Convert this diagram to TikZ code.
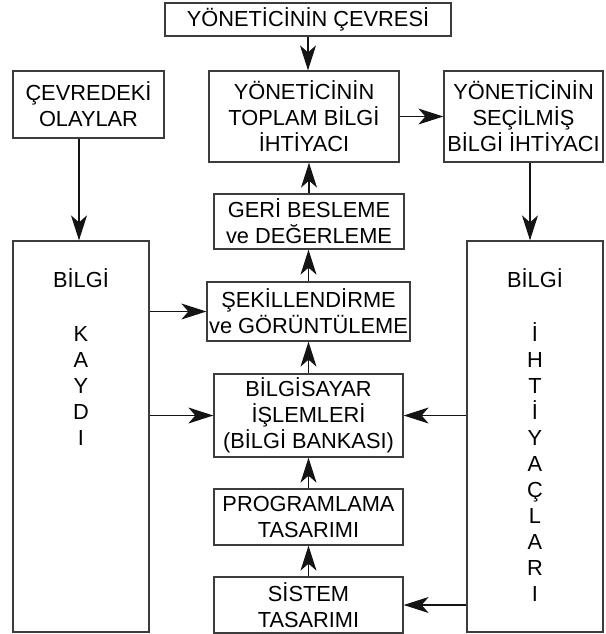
\documentclass[tikz,border=0pt]{standalone}
\usepackage{fontspec}
\setmainfont{Liberation Sans}
\usepackage{tikz}
\usetikzlibrary{arrows.meta,positioning}
\usepackage{xcolor}
\definecolor{boxgray}{RGB}{60,60,60}
\definecolor{linegray}{RGB}{20,20,20}
\tikzstyle{arrow} = [line width=0.6pt,color=linegray,-{Stealth[length=12.5pt,width=8pt,inset=3.5pt]}]
\tikzstyle{bilgibox} = [rectangle, draw=boxgray, line width=0.65pt, align=center, inner sep=1pt, font=\fontsize{10.9}{13}\selectfont]
\tikzstyle{dikyazi} = [align=center, inner sep=0pt, font=\fontsize{10.9}{13}\selectfont]

\begin{document}
\begin{tikzpicture}[x=0.5pt, y=-0.5pt]
\useasboundingbox (0,0) rectangle (606,634);

% Ust sira
\node (cevre) [bilgibox, minimum width=143pt, minimum height=16.5pt] at (308,19.5) {YÖNETİCİNİN ÇEVRESİ};
\node (olaylar) [bilgibox, minimum width=75.5pt, minimum height=33.5pt] at (88.5,104.5) {ÇEVREDEKİ\\OLAYLAR};
\node (toplam) [bilgibox, minimum width=95pt, minimum height=45.5pt] at (304,116.5) {YÖNETİCİNİN\\TOPLAM BİLGİ\\İHTİYACI};
\node (secilmis) [bilgibox, minimum width=79.5pt, minimum height=45.5pt] at (523.5,116.5) {YÖNETİCİNİN\\SEÇİLMİŞ\\BİLGİ İHTİYACI};

% Orta sutun
\node (geri) [bilgibox, minimum width=95pt, minimum height=27.5pt] at (309,221.5) {GERİ BESLEME\\ve DEĞERLEME};
\node (sekil) [bilgibox, minimum width=101.5pt, minimum height=29.5pt] at (308.5,311.5) {ŞEKİLLENDİRME\\ve GÖRÜNTÜLEME};
\node (bilgisayar) [bilgibox, minimum width=94.5pt, minimum height=41.5pt] at (308.5,415.5) {BİLGİSAYAR\\İŞLEMLERİ\\(BİLGİ BANKASI)};
\node (program) [bilgibox, minimum width=94.5pt, minimum height=28pt] at (308.5,517) {PROGRAMLAMA\\TASARIMI};
\node (sistem) [bilgibox, minimum width=94.5pt, minimum height=28pt] at (308.5,605) {SİSTEM\\TASARIMI};

% Yan kutular
\node (kayit) [bilgibox, minimum width=68pt, minimum height=195.5pt] at (81,436.5) {};
\node (kayityazi) [dikyazi, below=14pt of kayit.north] {BİLGİ\\[14pt]K\\A\\Y\\D\\I};
\node (ihtiyac) [bilgibox, minimum width=68pt, minimum height=195.5pt] at (535,436.5) {};
\node (ihtiyacyazi) [dikyazi, below=14pt of ihtiyac.north] {BİLGİ\\[14pt]İ\\H\\T\\İ\\Y\\A\\Ç\\L\\A\\R\\I};

% Oklar
\draw [arrow] (cevre.south) -- (cevre.south |- toplam.north);
\draw [arrow] (toplam) -- (secilmis);
\draw [arrow] ([xshift=-1pt]kayit.north |- olaylar.south) -- ([xshift=-1pt]kayit.north);
\draw [arrow] ([xshift=-2.5pt]ihtiyac.north |- secilmis.south) -- ([xshift=-2.5pt]ihtiyac.north);
\draw [arrow] (geri.north) -- (geri.north |- toplam.south);
\draw [arrow] (sekil.north) -- (sekil.north |- geri.south);
\draw [arrow] (bilgisayar.north) -- (bilgisayar.north |- sekil.south);
\draw [arrow] (program.north) -- (program.north |- bilgisayar.south);
\draw [arrow] (sistem.north) -- (sistem.north |- program.south);
\draw [arrow] (kayit.east |- sekil) -- (sekil.west);
\draw [arrow] (kayit.east |- bilgisayar) -- (bilgisayar.west);
\draw [arrow] (ihtiyac.west |- bilgisayar) -- (bilgisayar.east);
\draw [arrow] (ihtiyac.west |- sistem) -- (sistem.east);

\end{tikzpicture}
\end{document}
